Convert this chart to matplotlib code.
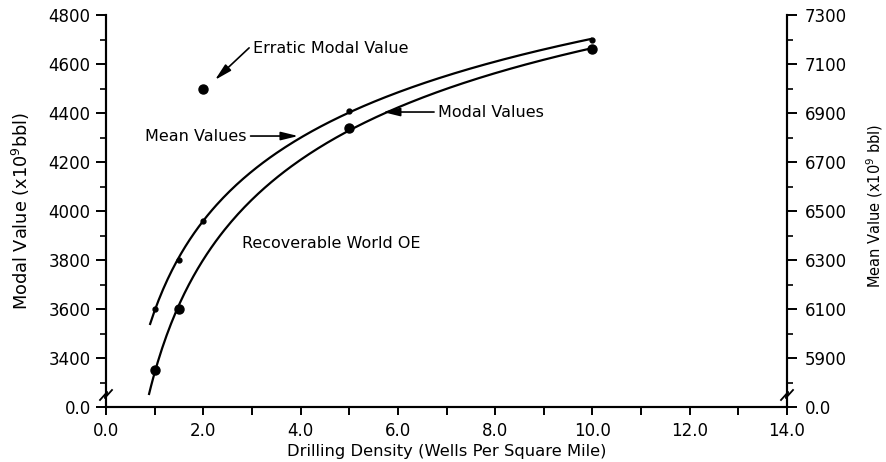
import numpy as np
import matplotlib
matplotlib.use("Agg")
import matplotlib.pyplot as plt

# wells per square mile
mean_density = [1.0, 1.5, 2.0, 5.0, 10.0]
mean_values = [6100, 6300, 6460, 6910, 7200]      # x10^9 bbl (right axis)
modal_density = [1.0, 1.5, 5.0, 10.0]
modal_values = [3350, 3600, 4340, 4660]           # x10^9 bbl (left axis)
erratic_density = [2.0]
erratic_value = [4500]

left_ticks = [3200, 3400, 3600, 3800, 4000, 4200, 4400, 4600, 4800]
left_labels = ["0.0", "3400", "3600", "3800", "4000", "4200", "4400", "4600", "4800"]
right_ticks = [5700, 5900, 6100, 6300, 6500, 6700, 6900, 7100, 7300]
right_labels = ["0.0", "5900", "6100", "6300", "6500", "6700", "6900", "7100", "7300"]
x_ticks = [0, 2, 4, 6, 8, 10, 12, 14]
x_labels = ["0.0", "2.0", "4.0", "6.0", "8.0", "10.0", "12.0", "14.0"]

plt.rcParams["font.family"] = "DejaVu Sans"
plt.rcParams["font.size"] = 11.5

fig = plt.figure(figsize=(8.87, 4.62), dpi=100)
ax = fig.add_axes([106 / 887, 1 - 407 / 462, 681 / 887, 392 / 462])
ax2 = ax.twinx()

ax.set_xlim(0, 14)
ax.set_ylim(3200, 4800)
ax2.set_ylim(5700, 7300)


def smooth(xs, ys, x0, x1):
    # quadratic in log(density) through the plotted points
    c = np.polyfit(np.log(xs), ys, 2)
    xx = np.linspace(x0, x1, 200)
    return xx, np.polyval(c, np.log(xx))


xm, ym = smooth(mean_density, mean_values, 0.9, 10.0)
ax2.plot(xm, ym, color="black", lw=1.6, solid_capstyle="butt")
ax2.plot(mean_density, mean_values, "o", color="black", ms=3.5)

xd, yd = smooth(modal_density, modal_values, 0.88, 10.0)
ax.plot(xd, yd, color="black", lw=1.6, solid_capstyle="butt")
ax.plot(modal_density, modal_values, "o", color="black", ms=6.5)
ax.plot(erratic_density, erratic_value, "o", color="black", ms=6.5)

for a in (ax, ax2):
    a.spines["top"].set_visible(False)
    for s in a.spines.values():
        s.set_linewidth(1.5)

ax.set_xticks(x_ticks)
ax.set_xticklabels(x_labels)
ax.set_xticks(np.arange(0, 15, 1), minor=True)
ax.set_yticks(left_ticks)
ax.set_yticklabels(left_labels)
ax.set_yticks(np.arange(3300, 4800, 100), minor=True)
ax2.set_yticks(right_ticks)
ax2.set_yticklabels(right_labels)
ax2.set_yticks(np.arange(5800, 7300, 100), minor=True)

ax.tick_params(axis="x", which="both", length=6, width=1.4, pad=5, labelsize=12)
ax.tick_params(axis="y", which="major", length=7, width=1.4, pad=4, labelsize=12)
ax.tick_params(axis="y", which="minor", length=4, width=1.2)
ax2.tick_params(axis="y", which="major", length=7, width=1.4, pad=6, labelsize=12)
ax2.tick_params(axis="y", which="minor", length=4, width=1.2)

ax.set_xlabel("Drilling Density (Wells Per Square Mile)", fontsize=11.8, labelpad=3)
ax.set_ylabel("Modal Value (x10$^{9}$bbl)", fontsize=12.8)
ax.yaxis.set_label_coords(-0.109, 0.5)
ax2.set_ylabel("Mean Value (x10$^{9}$ bbl)", fontsize=10.5)
ax2.yaxis.set_label_coords(1.114, 0.513)

# axis break marks near the bottom of both value axes
yb = 12 / 392
dx, dy = 6 / 681, 5 / 392
for xs in (0.0, 1.0):
    ax.plot([xs - dx, xs + 0.2 * dx, xs - 0.2 * dx, xs + dx],
            [yb - dy, yb + 0.6 * dy, yb - 0.6 * dy, yb + dy],
            transform=ax.transAxes, color="black", lw=1.3, clip_on=False)

arrow = dict(arrowstyle="-|>,head_length=0.9,head_width=0.22", color="black",
             lw=1.2, shrinkA=1, shrinkB=0)
ax.annotate("Erratic Modal Value", xy=(2.24, 4535), xytext=(3.02, 4665),
            ha="left", va="center", fontsize=11.5,
            arrowprops=dict(arrow, relpos=(0, 0.75)))
ax.annotate("Mean Values", xy=(3.95, 4306), xytext=(0.80, 4306),
            ha="left", va="center", fontsize=11.5,
            arrowprops=dict(arrow, relpos=(1, 0.5)))
ax.annotate("Modal Values", xy=(5.69, 4404), xytext=(6.83, 4404),
            ha="left", va="center", fontsize=11.5,
            arrowprops=dict(arrow, relpos=(0, 0.5)))
ax.text(2.80, 3869, "Recoverable World OE", ha="left", va="center", fontsize=11.5)

fig.savefig("out.png", dpi=100)
